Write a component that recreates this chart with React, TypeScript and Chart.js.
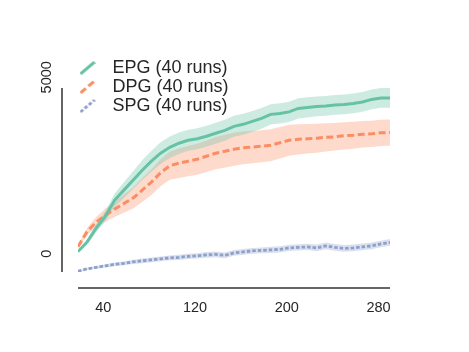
import React, { useEffect, useRef } from "react";
import { Chart, registerables } from "chart.js";

Chart.register(...registerables);

// Training step at which each mean / spread value was recorded
const STEPS = [
  18, 26, 34, 42, 50, 58, 66, 74, 82, 90, 98, 106, 114, 122, 130, 138, 146, 154,
  162, 170, 178, 186, 194, 202, 210, 218, 226, 234, 242, 250, 258, 266, 274, 282, 290,
];

const EPG_MEAN = [
  191, 485, 909, 1273, 1757, 2060, 2363, 2666, 2939, 3182, 3363, 3485, 3575, 3621,
  3697, 3788, 3878, 4000, 4060, 4151, 4242, 4363, 4393, 4439, 4545, 4575, 4605, 4621,
  4651, 4666, 4697, 4742, 4818, 4863, 4863,
];
const EPG_ERR = [
  40, 80, 120, 160, 200, 240, 270, 300, 320, 330, 330, 330, 320, 320, 320, 320, 320,
  320, 320, 315, 315, 310, 310, 310, 305, 305, 300, 300, 300, 300, 300, 300, 300, 300, 300,
];

const DPG_MEAN = [
  342, 803, 1091, 1303, 1485, 1651, 1818, 2060, 2303, 2591, 2803, 2879, 2939, 3000,
  3091, 3182, 3242, 3303, 3348, 3369, 3394, 3424, 3500, 3575, 3606, 3621, 3636, 3666,
  3681, 3712, 3727, 3757, 3772, 3803, 3809,
];
const DPG_ERR = [
  50, 110, 160, 200, 240, 280, 320, 360, 390, 410, 430, 450, 460, 470, 480, 490, 500,
  500, 500, 495, 490, 485, 480, 470, 460, 450, 440, 430, 420, 415, 410, 405, 400, 400, 400,
];

const SPG_MEAN = [
  -409, -333, -288, -242, -197, -167, -121, -91, -61, -30, 0, 15, 45, 61, 91, 106, 76,
  152, 182, 212, 227, 242, 258, 303, 318, 333, 303, 364, 318, 288, 303, 333, 364, 424, 470,
];
const SPG_ERR = [
  20, 30, 40, 50, 55, 60, 65, 70, 70, 75, 75, 80, 80, 80, 85, 85, 85, 90, 90, 90, 90,
  95, 95, 95, 95, 95, 100, 100, 100, 100, 100, 100, 100, 100, 100,
];

const SERIES_LABELS = ["EPG (40 runs)", "DPG (40 runs)", "SPG (40 runs)"];
const X_TICKS = [40, 120, 200, 280];
const Y_TICKS = [0, 5000];
const X_MIN = 18;
const X_MAX = 290;
const Y_MIN = -430;
const Y_MAX = 5165;

const FONT = '"Liberation Sans", Arial, Helvetica, sans-serif';
const TEXT = "#262626";

const SERIES = [
  { label: SERIES_LABELS[0], mean: EPG_MEAN, err: EPG_ERR, rgb: "102,194,165", dash: [] as number[], width: 3 },
  { label: SERIES_LABELS[1], mean: DPG_MEAN, err: DPG_ERR, rgb: "252,141,98", dash: [7, 3.5], width: 3 },
  { label: SERIES_LABELS[2], mean: SPG_MEAN, err: SPG_ERR, rgb: "141,160,203", dash: [3.5, 2], width: 2.8 },
];

// Short slanted stroke used as the legend marker
function makeHandle(rgb: string, dash: number[], width: number) {
  const c = document.createElement("canvas");
  c.width = 16;
  c.height = 14;
  const ctx = c.getContext("2d")!;
  ctx.strokeStyle = `rgb(${rgb})`;
  ctx.lineWidth = width;
  ctx.setLineDash(dash);
  ctx.beginPath();
  ctx.moveTo(1, 13);
  ctx.lineTo(15, 1);
  ctx.stroke();
  return c;
}

// Axis lines pulled away from the plotting area
const offsetSpines = {
  id: "offsetSpines",
  afterDraw(chart: any) {
    const { ctx, chartArea: a } = chart;
    ctx.save();
    ctx.strokeStyle = "#333333";
    ctx.lineWidth = 1.5;
    ctx.beginPath();
    ctx.moveTo(a.left - 16, a.top);
    ctx.lineTo(a.left - 16, a.bottom);
    ctx.moveTo(a.left, a.bottom + 16);
    ctx.lineTo(a.right, a.bottom + 16);
    ctx.stroke();
    ctx.restore();
  },
};

// Puts the legend in the upper-left corner, slightly above the plot
const legendPlacement = {
  id: "legendPlacement",
  afterLayout(chart: any) {
    const lg = chart.legend;
    const a = chart.chartArea;
    if (!lg) return;
    lg.left = a.left - 7.5;
    lg.top = a.top - 30;
    lg.width = 320;
    lg.height = 72;
    lg.right = lg.left + lg.width;
    lg.bottom = lg.top + lg.height;
  },
};

export default function App() {
  const canvasRef = useRef<HTMLCanvasElement | null>(null);

  useEffect(() => {
    const canvas = canvasRef.current;
    if (!canvas) return;

    const handles = SERIES.map((s) => makeHandle(s.rgb, s.dash, s.width));

    const lines = SERIES.map((s) => ({
      label: s.label,
      data: STEPS.map((x, i) => ({ x, y: s.mean[i] })),
      borderColor: `rgb(${s.rgb})`,
      backgroundColor: `rgb(${s.rgb})`,
      borderWidth: s.width,
      borderDash: s.dash,
      pointRadius: 0,
      tension: 0,
      fill: false,
      order: 0,
    }));

    const bands: any[] = [];
    SERIES.forEach((s) => {
      bands.push({
        label: s.label + " lower",
        data: STEPS.map((x, i) => ({ x, y: s.mean[i] - s.err[i] })),
        borderColor: "rgba(0,0,0,0)",
        borderWidth: 0,
        pointRadius: 0,
        fill: false,
        order: 1,
      });
      bands.push({
        label: s.label + " upper",
        data: STEPS.map((x, i) => ({ x, y: s.mean[i] + s.err[i] })),
        borderColor: "rgba(0,0,0,0)",
        backgroundColor: `rgba(${s.rgb},0.32)`,
        borderWidth: 0,
        pointRadius: 0,
        fill: "-1",
        order: 1,
      });
    });

    const chart = new Chart(canvas, {
      type: "line",
      data: { datasets: [...lines, ...bands] as any },
      options: {
        animation: false,
        responsive: false,
        devicePixelRatio: 1,
        events: [],
        layout: { padding: { top: 88, left: 30, right: 79, bottom: 36 } },
        plugins: {
          tooltip: { enabled: false },
          filler: { drawTime: "beforeDatasetsDraw" } as any,
          legend: {
            position: "chartArea" as any,
            align: "start",
            labels: {
              usePointStyle: true,
              pointStyleWidth: 32,
              padding: 1,
              color: TEXT,
              font: { family: FONT, size: 18 },
              generateLabels: (c: any) =>
                (Chart.defaults.plugins.legend.labels as any)
                  .generateLabels(c)
                  .filter((l: any) => l.datasetIndex < SERIES.length)
                  .map((l: any) => ({ ...l, pointStyle: handles[l.datasetIndex] })),
            },
          },
        },
        scales: {
          x: {
            type: "linear",
            min: X_MIN,
            max: X_MAX,
            grid: { display: false, drawTicks: false },
            border: { display: false },
            afterBuildTicks: (scale: any) => {
              scale.ticks = X_TICKS.map((value) => ({ value }));
            },
            afterFit: (scale: any) => {
              scale.height = 44;
            },
            ticks: {
              padding: 27,
              color: TEXT,
              font: { family: FONT, size: 14.5 },
              maxRotation: 0,
              autoSkip: false,
              callback: (v: any) => String(v),
            },
          },
          y: {
            type: "linear",
            min: Y_MIN,
            max: Y_MAX,
            grid: { display: false, drawTicks: false },
            border: { display: false },
            afterBuildTicks: (scale: any) => {
              scale.ticks = Y_TICKS.map((value) => ({ value }));
            },
            afterFit: (scale: any) => {
              scale.width = 48;
            },
            ticks: {
              // upright-reading labels that start at their tick and run upward
              mirror: true,
              padding: -31.5,
              minRotation: 90,
              maxRotation: 90,
              crossAlign: "near",
              color: TEXT,
              font: { family: FONT, size: 14.5 },
              autoSkip: false,
              callback: (v: any) => String(v),
            },
          },
        },
      },
      plugins: [offsetSpines, legendPlacement],
    });

    return () => chart.destroy();
  }, []);

  return (
    <div style={{ position: "fixed", left: 0, top: 0, width: 469, height: 352, background: "#ffffff" }}>
      <canvas ref={canvasRef} width={469} height={352} style={{ display: "block" }} />
    </div>
  );
}
